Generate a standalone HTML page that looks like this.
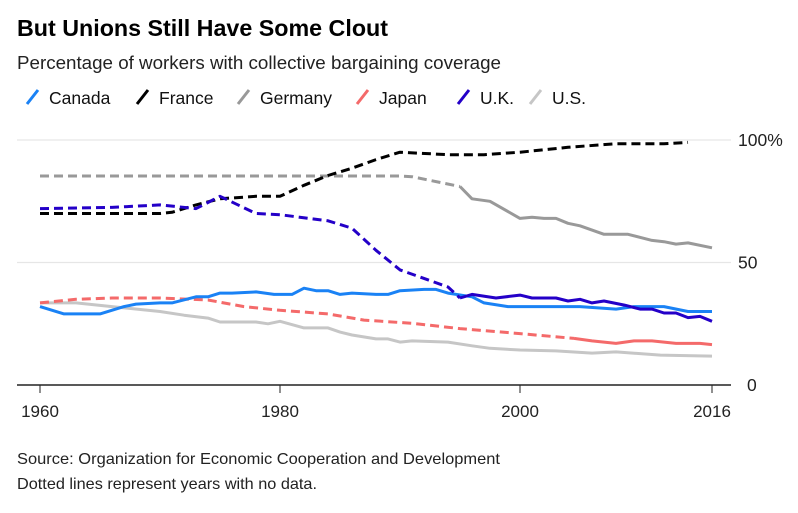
<!DOCTYPE html>
<html><head><meta charset="utf-8"><style>
body{margin:0;background:#fff;font-family:"Liberation Sans",Arial,sans-serif;}
svg text{font-family:"Liberation Sans",Arial,sans-serif;}
</style></head><body>
<svg id="chart" width="798" height="508" viewBox="0 0 798 508">
<text x="17" y="36" font-size="23" font-weight="bold" fill="#000" textLength="371" lengthAdjust="spacingAndGlyphs">But Unions Still Have Some Clout</text>
<text x="17" y="69" font-size="18" fill="#222" textLength="484" lengthAdjust="spacingAndGlyphs">Percentage of workers with collective bargaining coverage</text>
<g id="legend"></g>
<g id="grid"></g>
<g id="series"></g>
<text x="17" y="464" font-size="16" fill="#222" textLength="483" lengthAdjust="spacingAndGlyphs">Source: Organization for Economic Cooperation and Development</text>
<text x="17" y="489" font-size="16" fill="#222" textLength="300" lengthAdjust="spacingAndGlyphs">Dotted lines represent years with no data.</text>
</svg>
<script>
const ns="http://www.w3.org/2000/svg";
const canadaYears=[1960,1962,1965,1967,1968,1970,1971,1973,1974,1975,1976,1978,1979.5,1981,1982,1983,1984,1985,1986,1988,1989,1990,1992,1993,1994,1996,1997,1999,2002.5,2005,2008,2009.5,2012,2014,2016];
const canadaValues=[32,29,29,32,33,33.5,33.5,36,36,37.5,37.5,38,37,37,39.5,38.5,38.5,37,37.5,37,37,38.5,39,39,37.5,36,33.5,32,32,32,31,32,32,30,30];
const franceYears=[1960,1970,1971,1973,1975,1978,1980,1982,1984,1986,1988,1990,1994,1997,2000,2004,2008,2012,2014];
const franceValues=[70,70,70.5,73.5,76,77,77,81.5,85.5,88.5,92,95,94,94,95,97,98.5,98.5,99];
const germanyYears=[1960,1990,1991,1995,1996,1997.5,2000,2001,2002,2003,2004,2005,2007,2009,2011,2012,2013,2014,2016];
const germanyValues=[85.3,85.3,85,81,76,75,68,68.5,68,68,66,65,61.5,61.5,59,58.5,57.5,58,56];
const japanYears=[1960,1963,1966,1970,1974,1977,1980,1984,1987,1990,1991,1995,2000,2004.5,2006,2008,2009.5,2011,2013,2015,2016];
const japanValues=[33.5,35,35.5,35.5,34.7,32,30.5,29,26.5,25.5,25.2,23,21,19,18,17,18,18,17,17,16.5];
const ukYears=[1960,1966,1970,1973,1975,1978,1980,1984,1986,1988,1990,1994,1995,1996,1998,2000,2001,2003,2004,2005,2006,2007,2008.7,2010,2011,2012,2013,2014,2015,2016];
const ukValues=[72,72.5,73.5,72,77,70,69.5,67,64,55,47,40,35.5,37,35.5,36.7,35.5,35.5,34.3,35,33.5,34.3,32.6,31,31,29.4,29.4,27.5,28,26];
const usYears=[1960,1963,1966,1970,1972,1974,1975,1978,1979,1980,1982,1984,1985,1986,1988,1989,1990,1991,1994,1996,1997.5,2000,2003,2006,2008,2011.7,2016];
const usValues=[33.5,33.5,32,30,28.5,27.3,25.7,25.7,25,26,23.3,23.3,21.6,20.4,18.8,18.8,17.5,18,17.5,16,15,14.3,13.9,13,13.5,12.2,11.8];
const seriesNames=["Canada","France","Germany","Japan","U.K.","U.S."];
const seriesColors=["#1a82f5","#000000","#999999","#f46a6a","#2400c8","#c6c6c6"];
const solidFrom=[1960,9999,1995,2004.5,1995,1960];
const xTicks=[1960,1980,2000,2016];
const yTicks=[0,50,100];
const yTickLabels=["0","50","100%"];
const allYears=[canadaYears,franceYears,germanyYears,japanYears,ukYears,usYears];
const allValues=[canadaValues,franceValues,germanyValues,japanValues,ukValues,usValues];
function x(yr){return 40+(yr-1960)*12;}
function y(v){return 385-v*2.45;}
function mk(tag,attrs,parent){const e=document.createElementNS(ns,tag);for(const k in attrs)e.setAttribute(k,attrs[k]);parent.appendChild(e);return e;}
const grid=document.getElementById('grid');
yTicks.forEach((t,i)=>{
  const l=mk('line',{x1:17,x2:731,y1:y(t),y2:y(t),stroke:t===0?'#222':'#e6e6e6','stroke-width':t===0?1.5:1.3},grid);
  
  
  const tx=mk('text',{x:t===0?747:738,y:y(t)+6,'font-size':17.5,fill:'#222'},grid);
  tx.textContent=yTickLabels[i];
  
  
});
xTicks.forEach(t=>{
  const l=mk('line',{x1:x(t),x2:x(t),y1:385,y2:393,stroke:'#222','stroke-width':1},grid);
  
  
  const tx=mk('text',{x:x(t),y:417,'font-size':17,fill:'#222','text-anchor':'middle'},grid);
  tx.textContent=t;
  
  
});
const sg=document.getElementById('series');
const order=[2,1,5,3,0,4];
order.forEach(i=>{
  const ys=allYears[i],vs=allValues[i],sf=solidFrom[i];
  let dash=[],solid=[];
  ys.forEach((yr,j)=>{const p=x(yr).toFixed(1)+','+y(vs[j]).toFixed(1);if(yr<=sf)dash.push(p);if(yr>=sf)solid.push(p);});
  if(dash.length>1){const p=mk('polyline',{points:dash.join(' '),fill:'none',stroke:seriesColors[i],'stroke-width':3,'stroke-dasharray':'9 5','stroke-linejoin':'round'},sg);
    
    }
  if(solid.length>1){const p=mk('polyline',{points:solid.join(' '),fill:'none',stroke:seriesColors[i],'stroke-width':3,'stroke-linejoin':'round'},sg);
    
    }
});
const lg=document.getElementById('legend');
const legendX=[27,137,238,357,458,530];
seriesNames.forEach((n,i)=>{
  const g=mk('g',{},lg);
  
  
  mk('line',{x1:legendX[i],y1:104,x2:legendX[i]+11,y2:90,stroke:seriesColors[i],'stroke-width':3},g);
  const t=mk('text',{x:legendX[i]+22,y:104,'font-size':17.5,fill:'#111'},g);
  t.textContent=n;
});
</script>
</body></html>
